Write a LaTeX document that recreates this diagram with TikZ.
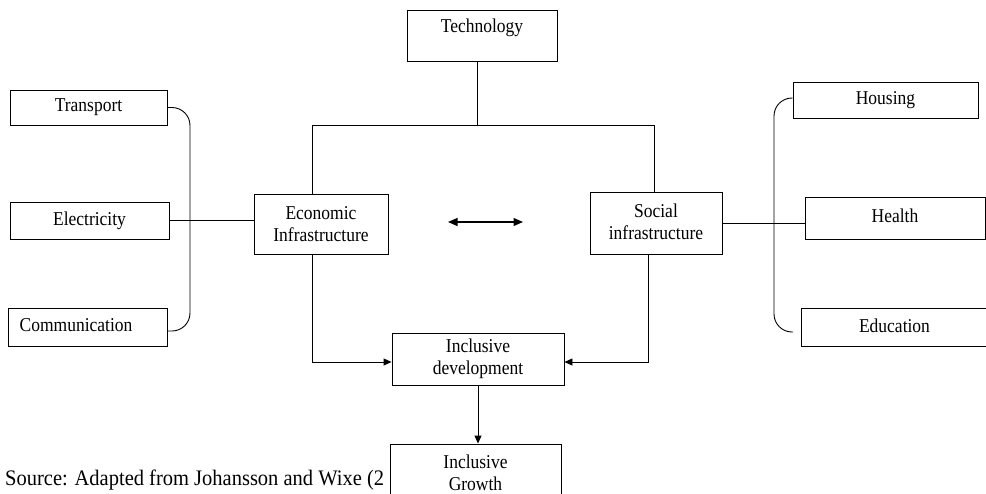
\documentclass[tikz,border=0pt]{standalone}
\usepackage{fontspec}
\usepackage{graphicx}
\setmainfont{Liberation Serif}
\usetikzlibrary{arrows.meta}
\newcommand{\vst}[1]{\scalebox{1}[1.12]{#1}}
\newcommand{\lblfont}{\fontsize{17.5}{22}\selectfont}
\newcommand{\srcfont}{\fontsize{20.5}{24}\selectfont}
\begin{document}
\begin{tikzpicture}[x=1pt,y=-1pt,
  box/.style={draw, line width=0.9pt, fill=white, inner sep=0pt, align=center, font=\lblfont},
  txt/.style={inner sep=0pt, align=center, font=\lblfont},
  conn/.style={line width=0.9pt},
  arr/.style={line width=0.9pt, -{Triangle[length=8pt,width=7pt]}},
  darr/.style={line width=1.2pt, {Triangle[length=9.5pt,width=8pt]}-{Triangle[length=9.5pt,width=8pt]}}]
\useasboundingbox[fill=white] (0,0) rectangle (986,493);
% boxes
\node[box, minimum width=150pt, minimum height=51pt] (tech) at (482,35.5) {};
\node[txt] (techtxt) at (482,28) {\vst{Technology}};
\node[box, minimum width=157pt, minimum height=35pt] (trans) at (88.5,107.5) {\vst{Transport}};
\node[box, minimum width=159pt, minimum height=37pt] (elec) at (89.5,220.5) {\vst{Electricity}};
\node[box, minimum width=159pt, minimum height=38pt] (comm) at (87.5,327) {};
\node[txt] (commtxt) at (76,325) {\vst{Communication}};
\node[box, minimum width=134pt, minimum height=60pt] (econ) at (321,224) {\vst{Economic}\\\vst{Infrastructure}};
\node[box, minimum width=132pt, minimum height=62pt] (soc) at (656,223) {\raisebox{3pt}{\vst{Social}}\\\raisebox{3pt}{\vst{infrastructure}}};
\node[box, minimum width=185pt, minimum height=36pt] (house) at (885.5,100) {\raisebox{3pt}{\vst{Housing}}};
\node[box, minimum width=180pt, minimum height=42pt] (health) at (895,218) {\raisebox{5pt}{\vst{Health}}};
\node[box, minimum width=187pt, minimum height=38pt] (educ) at (894.5,327) {\raisebox{2pt}{\vst{Education}}};
\node[box, minimum width=172pt, minimum height=52pt] (incdev) at (478,359) {\vst{Inclusive}\\\vst{development}};
\node[inner sep=0pt, anchor=west, font=\srcfont] (src) at (5,480) {\scalebox{1}[1.08]{Source: Adapted from Johansson and Wixe (2}};
\node[box, minimum width=171pt, minimum height=60pt] (growth) at (475.5,474) {\raisebox{3pt}{\vst{Inclusive}}\\\raisebox{3pt}{\vst{Growth}}};
% coordinates
\coordinate (tl) at (312,125);
\coordinate (tr) at (654,125);
\coordinate (lb) at (190,220);
\coordinate (rb) at (774,223);
\coordinate (rbend) at (793,332);
\coordinate (a1) at (448,222);
\coordinate (a2) at (523,222);
% connectors
\draw[conn] ([xshift=-5pt]tech.south) -- ([xshift=-5pt]tech.south |- tl);
\draw[conn] ([xshift=-9pt]econ.north) -- (tl) -- (tr) -- ([xshift=-2pt]soc.north);
\draw[conn, rounded corners=18pt] (trans.east) -| (lb) |- ([yshift=-4pt]comm.east);
\draw[conn] (elec.east) -- (elec.east -| econ.west);
\draw[conn, rounded corners=18pt] ([yshift=2pt]house.west) -| (rb) |- (rbend);
\draw[conn] (soc.east) -- (soc.east -| health.west);
\draw[darr] (a1) -- (a2);
\draw[arr] ([xshift=-9pt]econ.south) |- ([yshift=-3pt]incdev.west);
\draw[arr] ([xshift=-8pt]soc.south) |- ([yshift=-3pt]incdev.east);
\draw[arr] (incdev.south) -- (incdev.south |- growth.north);
\end{tikzpicture}
\end{document}
